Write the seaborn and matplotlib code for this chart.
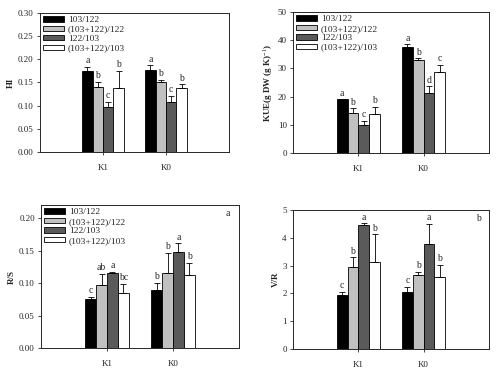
import numpy as np
import pandas as pd
import matplotlib
matplotlib.use("Agg")
import matplotlib.pyplot as plt
from matplotlib.container import BarContainer
import seaborn as sns

groups = ["K1", "K0"]
treatments = ["103/122", "(103+122)/122", "122/103", "(103+122)/103"]
colors = ["#000000", "#c0c0c0", "#5a5a5a", "#ffffff"]

# values per treatment: [K1, K0]
hi_mean = [[0.175, 0.177], [0.140, 0.151], [0.097, 0.108], [0.138, 0.138]]
hi_err = [[0.009, 0.010], [0.012, 0.004], [0.011, 0.013], [0.037, 0.008]]
hi_letters = [["a", "a"], ["b", "b"], ["c", "c"], ["b", "b"]]

kue_mean = [[19.0, 37.5], [14.3, 33.0], [10.0, 21.3], [13.8, 28.8]]
kue_err = [[0.0, 1.0], [1.5, 0.5], [1.3, 2.3], [2.5, 2.5]]
kue_letters = [["a", "a"], ["b", "b"], ["c", "d"], ["b", "c"]]

rs_mean = [[0.076, 0.090], [0.097, 0.116], [0.115, 0.148], [0.084, 0.112]]
rs_err = [[0.003, 0.010], [0.017, 0.031], [0.002, 0.013], [0.015, 0.019]]
rs_letters = [["c", "b"], ["ab", "b"], ["a", "a"], ["bc", "b"]]

vr_mean = [[1.95, 2.07], [2.95, 2.65], [4.47, 3.78], [3.13, 2.58]]
vr_err = [[0.10, 0.18], [0.35, 0.13], [0.05, 0.72], [1.00, 0.45]]
vr_letters = [["c", "c"], ["b", "b"], ["a", "a"], ["b", "b"]]

sns.set_style("ticks")
plt.rcParams["font.family"] = ["Liberation Serif", "DejaVu Serif"]
plt.rcParams["mathtext.fontset"] = "custom"
plt.rcParams["mathtext.rm"] = "Liberation Serif"


def make_frame(means, errs):
    rows = []
    for t, m_row, e_row in zip(treatments, means, errs):
        for g, m, e in zip(groups, m_row, e_row):
            rows.append({"group": g, "treatment": t, "mean": m, "err": e})
    return pd.DataFrame(rows)


def draw_panel(ax, means, errs, letters, ylim, step, ylabel, show_legend, tag=None):
    df = make_frame(means, errs)
    sns.barplot(data=df, x="group", y="mean", hue="treatment",
                hue_order=treatments, palette=colors, width=0.66,
                edgecolor="black", linewidth=0.6, errorbar=None, ax=ax)
    offset = (ylim[1] - ylim[0]) * 0.012
    bars = [c for c in ax.containers if isinstance(c, BarContainer)]
    for i, cont in enumerate(bars):
        xs = [b.get_x() + b.get_width() / 2 for b in cont]
        hs = [b.get_height() for b in cont]
        e = np.array(errs[i])
        ax.errorbar(xs, hs, yerr=[np.zeros_like(e), e], fmt="none",
                    ecolor="black", elinewidth=0.6, capsize=2, capthick=0.6)
        for x, h, ee, lab in zip(xs, hs, e, letters[i]):
            ax.text(x, h + ee + offset, lab, ha="center", va="bottom", fontsize=7)
    ax.set_xlim(-1, 2)
    ax.set_ylim(*ylim)
    ticks = np.arange(ylim[0], ylim[1] + 1e-9, step)
    ax.set_yticks(ticks)
    if step < 1:
        ax.set_yticklabels([f"{v:.2f}" for v in ticks])
    ax.set_xlabel("")
    ax.set_ylabel(ylabel, fontsize=6.5, fontweight="bold", labelpad=2)
    ax.tick_params(axis="both", labelsize=6.5, width=0.6, length=2.5, pad=2)
    ax.tick_params(axis="x", pad=6)
    for s in ax.spines.values():
        s.set_visible(True)
        s.set_linewidth(0.7)
    if show_legend:
        ax.legend(loc="upper left", frameon=False, fontsize=6.8,
                  handlelength=2.2, handleheight=0.5, labelspacing=0.15,
                  handletextpad=0.4, borderaxespad=0.15, borderpad=0.2)
    else:
        leg = ax.get_legend()
        if leg is not None:
            leg.remove()
    if tag:
        ax.text(0.945, 0.94, tag, transform=ax.transAxes, fontsize=7,
                ha="center", va="center")


fig = plt.figure(figsize=(5, 3.73), dpi=100)
ax1 = fig.add_axes([0.080, 0.5925, 0.378, 0.373])
ax2 = fig.add_axes([0.586, 0.590, 0.392, 0.378])
ax3 = fig.add_axes([0.082, 0.067, 0.396, 0.383])
ax4 = fig.add_axes([0.586, 0.064, 0.392, 0.373])

draw_panel(ax1, hi_mean, hi_err, hi_letters, (0, 0.30), 0.05, "HI", True)
draw_panel(ax2, kue_mean, kue_err, kue_letters, (0, 50), 10,
           "KUE(g DW (g K)$^{-1}$)", True)
draw_panel(ax3, rs_mean, rs_err, rs_letters, (0, 0.22), 0.05, "R/S", True, tag="a")
draw_panel(ax4, vr_mean, vr_err, vr_letters, (0, 5), 1, "V/R", False, tag="b")

fig.savefig("out.png", dpi=100)
